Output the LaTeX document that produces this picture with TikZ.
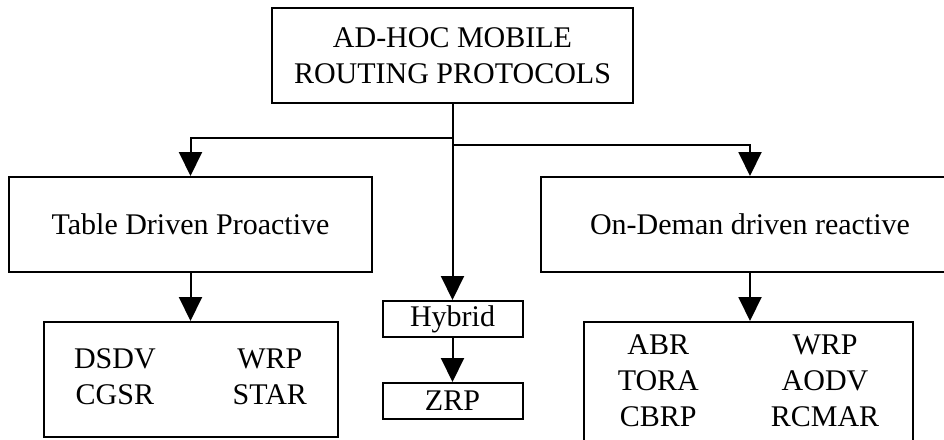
\documentclass[tikz,border=0pt]{standalone}
\usepackage{fontspec}
\setmainfont{Liberation Serif}
\usetikzlibrary{positioning,arrows.meta}

\tikzset{
  box/.style={draw,line width=2pt,inner sep=0pt,align=center},
  arr/.style={line width=2pt,-{Triangle[length=24pt,width=23pt]}}
}

\begin{document}
\begin{tikzpicture}[x=1pt,y=-1pt,font=\fontsize{30}{36}\selectfont]
      \useasboundingbox (0,0) rectangle (944,439);
      \clip (0,0) rectangle (944,439);
      \node[box,minimum width=361pt,minimum height=95pt] (1) at (452.5,55.5)
        {AD-HOC MOBILE\\ROUTING PROTOCOLS};
      \node[box,minimum width=363pt,minimum height=95pt,below=72pt of 1,xshift=-262pt] (2)
        {Table Driven Proactive};
      \node[box,minimum width=418pt,minimum height=95pt,below=72pt of 1,xshift=297.5pt] (3)
        {On-Deman driven reactive};
      \node[box,minimum width=140pt,minimum height=36pt,below=196pt of 1] (4) {Hybrid};
      \node[box,minimum width=140pt,minimum height=36pt,below=44pt of 4] (5) {ZRP};
      \node[box,minimum width=294pt,minimum height=115pt,below=48pt of 2] (6)
        {\begin{tabular}{@{}c@{\hspace{77pt}}c@{}}DSDV & WRP\\CGSR & STAR\end{tabular}};
      \node[box,minimum width=329pt,minimum height=123pt,below=48pt of 3,xshift=-1.5pt] (7)
        {\begin{tabular}{@{}c@{\hspace{72pt}}c@{}}ABR & WRP\\TORA & AODV\\CBRP & RCMAR\end{tabular}};
      %% Arrows from the root
      \draw[arr] (1.south) -- ++(0,34) -| (2.north);
      \draw[arr] (1.south) ++(0,41) -| (3.north);
      \draw[arr] (1.south) -- (4.north);
      %% Arrows to the lists
      \draw[arr] (2.south) -- (6.north);
      \draw[arr] (3.south) -- (3.south |- 7.north);
      \draw[arr] (4.south) -- (5.north);
    \end{tikzpicture}
\end{document}
